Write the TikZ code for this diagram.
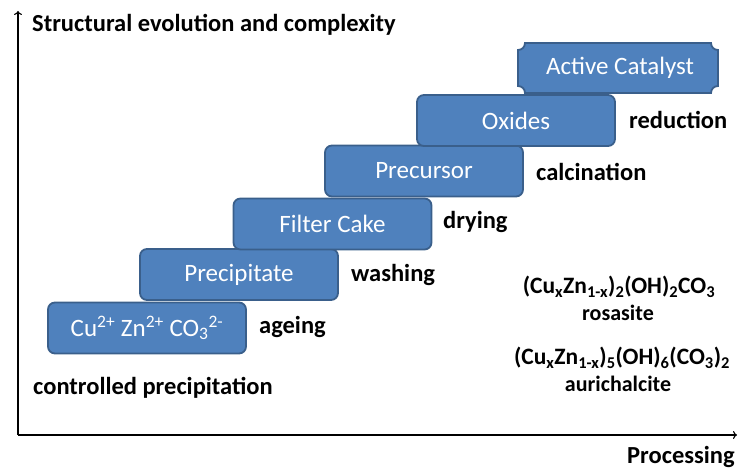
\documentclass[tikz,border=0pt]{standalone}
\usepackage{fontspec}
\setmainfont{Carlito}
\usetikzlibrary{positioning,arrows.meta}
\definecolor{boxblue}{HTML}{4F81BD}
\definecolor{boxedge}{HTML}{3A5F8B}
\tikzset{
    stepbox/.style={draw=boxedge, line width=1.8pt, fill=boxblue, rounded corners=7pt,
        minimum width=198pt, minimum height=51pt, inner sep=0pt, text=white,
        font=\fontsize{25}{27}\selectfont},
    proclabel/.style={anchor=west, inner sep=0pt, font=\bfseries\fontsize{24.5}{26}\selectfont},
    phase/.style={inner sep=0pt, font=\bfseries\fontsize{23.5}{25}\selectfont},
    mineral/.style={inner sep=0pt, font=\bfseries\fontsize{22}{24}\selectfont},
    axis/.style={line width=1.2pt, -{To[length=4pt,width=8pt]}}
}
\begin{document}
\begin{tikzpicture}[x=1pt,y=-1pt]
        \useasboundingbox (0,0) rectangle (739,470);
        % axes
        \coordinate (origin) at (18,435);
        \coordinate (ytop) at (18,11);
        \coordinate (xend) at (737,435);
        \draw[axis] (origin) -- (ytop);
        \draw[axis] (origin) -- (xend);
        \node[proclabel] (ylab) at (32,25) {Structural evolution and complexity};
        \node[proclabel, anchor=base west] (xlab) at (627,463.5) {Processing};
        % steps
        \node[stepbox] (ions) at (147,328) {Cu\textsuperscript{2+} Zn\textsuperscript{2+} CO\textsubscript{3}\textsuperscript{2-}};
        \node[stepbox] (precip) at (239,274.5) {Precipitate};
        \node[stepbox] (cake) at (332.5,224) {Filter Cake};
        \node[stepbox] (precursor) at (424,171) {Precursor};
        \node[stepbox] (oxides) at (516,120.5) {Oxides};
        \draw[draw=boxedge, line width=1.8pt, fill=boxblue] (525,43) -- (711,43) .. controls (711,46.9) and (714.1,50) .. (718,50) -- (718,86) .. controls (714.1,86) and (711,89.1) .. (711,93) -- (525,93) .. controls (525,89.1) and (521.9,86) .. (518,86) -- (518,50) .. controls (521.9,50) and (525,46.9) .. (525,43) -- cycle;
        \node[stepbox, draw=none, fill=none] (catalyst) at (620,68) {Active Catalyst};
        % treatments
        \node[proclabel] (ageing) at (259,327) {ageing};
        \node[proclabel] (washing) at (351,275) {washing};
        \node[proclabel] (drying) at (443,222) {drying};
        \node[proclabel] (calcination) at (536,172) {calcination};
        \node[proclabel] (reduction) at (629,120) {reduction};
        \node[proclabel] (controlled) at (33,388) {controlled precipitation};
        % phases
        \node[phase] (rosform) at (619,287) {(Cu\textsubscript{x}Zn\textsubscript{1-x})\textsubscript{2}(OH)\textsubscript{2}CO\textsubscript{3}};
        \node[mineral] (rosasite) at (618,313) {rosasite};
        \node[phase] (aurform) at (622,358) {(Cu\textsubscript{x}Zn\textsubscript{1-x})\textsubscript{5}(OH)\textsubscript{6}(CO\textsubscript{3})\textsubscript{2}};
        \node[mineral] (aurichalcite) at (618,384) {aurichalcite};
\end{tikzpicture}
\end{document}
